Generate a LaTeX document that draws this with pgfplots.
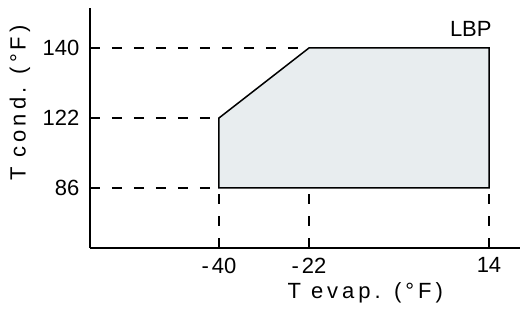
\documentclass[border=0pt]{standalone}
\usepackage{fontspec}
\setmainfont{Liberation Sans}
\newfontfamily\spaced[LetterSpace=18]{Liberation Sans}
\usepackage{pgfplots}
\pgfplotsset{compat=1.18}
\definecolor{fillc}{RGB}{232,237,239}
\begin{document}
\fontsize{11}{13}\selectfont
\begin{tikzpicture}[x=1pt,y=1pt]
\begin{axis}[
  scale only axis,
  width=215pt, height=120pt,
  xmin=-65.8, xmax=20.2,
  ymin=-0.857, ymax=2.571,
  axis x line*=bottom, axis y line*=left,
  axis line style={line width=0.75pt, -},
  /pgf/number format/assume math mode=true,
  xtick={-40,-22,14}, xticklabels={\mbox{-\hspace{1.5pt}40},\mbox{-\hspace{1.5pt}22},\mbox{14}},
  ytick={0,1,2}, yticklabels={\mbox{86},\mbox{122},\mbox{140}},
  major tick length=0pt,
  tick label style={font=\fontsize{11}{13}\selectfont},
  xticklabel style={yshift=-1pt},
  yticklabel style={xshift=-1.5pt},
  xlabel={\spaced T evap. (°F)},
  ylabel={\spaced T cond. (°F)},
  xlabel style={at={(axis description cs:0.64,-0.185)}, anchor=center, font=\fontsize{11}{13}\selectfont},
  ylabel style={at={(axis description cs:-0.163,0.604)}, anchor=center, rotate=0, font=\fontsize{11}{13}\selectfont},
  clip=false,
]
\addplot[fill=fillc, draw=black, line width=0.75pt] coordinates {(-40,0) (-40,1) (-22,2) (14,2) (14,0)} -- cycle;
\addplot[black, line width=0.75pt, dash pattern=on 5pt off 6pt] coordinates {(-65.8,2) (-22,2)};
\addplot[black, line width=0.75pt, dash pattern=on 5pt off 6pt] coordinates {(-65.8,1) (-40,1)};
\addplot[black, line width=0.75pt, dash pattern=on 5pt off 6pt] coordinates {(-65.8,0) (-40,0)};
\addplot[black, line width=0.75pt, dash pattern=on 5pt off 6pt] coordinates {(-40,-0.857) (-40,0)};
\addplot[black, line width=0.75pt, dash pattern=on 5pt off 6pt] coordinates {(-22,-0.857) (-22,0)};
\addplot[black, line width=0.75pt, dash pattern=on 5pt off 6pt] coordinates {(14,-0.857) (14,0)};
\node[anchor=base east, inner sep=0pt] at (axis cs:14.6,2.157) {LBP};
\end{axis}
\pgfresetboundingbox
\path (-45pt,-33pt) rectangle (215pt,124pt);
\end{tikzpicture}
\end{document}
